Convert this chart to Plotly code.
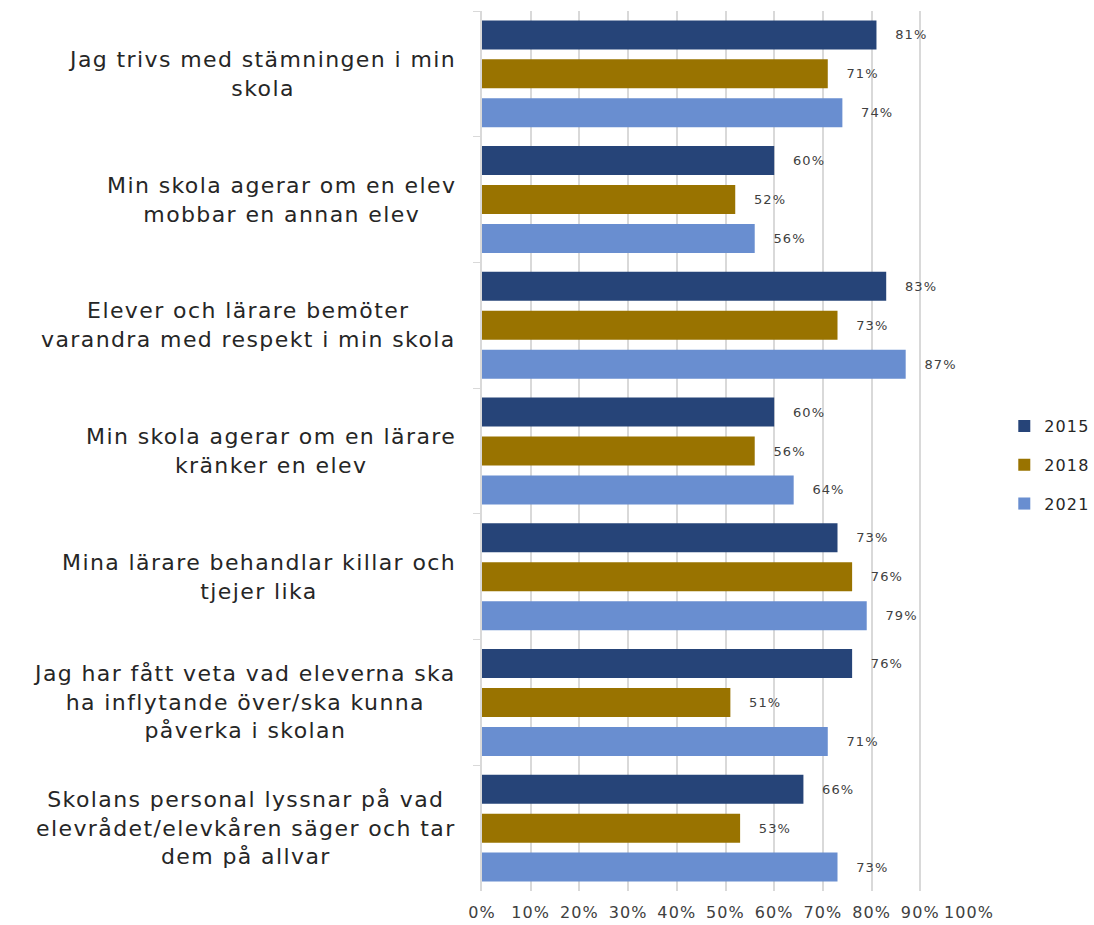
import plotly.graph_objects as go

# Survey statements (top to bottom) and share of positive answers per year, in percent
statements = [
    "Jag trivs med stämningen i min<br>skola",
    "Min skola agerar om en elev<br>mobbar en annan elev",
    "Elever och lärare bemöter<br>varandra med respekt i min skola",
    "Min skola agerar om en lärare<br>kränker en elev",
    "Mina lärare behandlar killar och<br>tjejer lika",
    "Jag har fått veta vad eleverna ska<br>ha inflytande över/ska kunna<br>påverka i skolan",
    "Skolans personal lyssnar på vad<br>elevrådet/elevkåren säger och tar<br>dem på allvar",
]
years = ["2015", "2018", "2021"]
values_2015 = [81, 60, 83, 60, 73, 76, 66]
values_2018 = [71, 52, 73, 56, 76, 51, 53]
values_2021 = [74, 56, 87, 64, 79, 71, 73]
x_ticks = [0, 10, 20, 30, 40, 50, 60, 70, 80, 90, 100]
x_tick_labels = [f"{v}%" for v in x_ticks]

series = [values_2015, values_2018, values_2021]
colors = ["#264478", "#997300", "#698ED0"]

FONT = "DejaVu Sans"
fig = go.Figure()
for year, vals, col in zip(years, series, colors):
    fig.add_trace(go.Bar(
        y=statements,
        x=vals,
        orientation="h",
        name=year,
        legendgroup=year,
        marker=dict(color=col, line=dict(width=0)),
        texttemplate="\u00a0\u00a0\u00a0%{x:.0f}%",
        textposition="outside",
        constraintext="none",
        cliponaxis=False,
        textfont=dict(family=FONT, size=13, color="#404040"),
    ))

# Category labels, centred line by line and right-aligned to the axis
for s in statements:
    fig.add_annotation(
        x=-0.05, xref="paper", xanchor="right",
        y=s, yref="y", yanchor="middle",
        text=s, align="center", showarrow=False,
        font=dict(family=FONT, size=22, color="#262626"),
    )

fig.update_layout(
    width=1094, height=925, autosize=False,
    margin=dict(l=482, r=125, t=11, b=34),
    paper_bgcolor="white", plot_bgcolor="white",
    barmode="group", bargap=0.07, bargroupgap=0.256,
    font=dict(family=FONT, color="#404040"),
    legend=dict(
        xref="container", x=0.918, xanchor="left",
        yref="paper", y=0.484, yanchor="middle",
        font=dict(family=FONT, size=16, color="#262626"),
        tracegroupgap=15,
    ),
    xaxis=dict(
        range=[0, 100], tickvals=x_ticks, ticktext=x_tick_labels,
        showgrid=True, gridcolor="#d9d9d9", gridwidth=1.5,
        zeroline=False, showline=False, ticks="",
        ticklabelstandoff=10, automargin=False,
        tickfont=dict(family=FONT, size=16, color="#404040"),
    ),
    yaxis=dict(
        type="category", categoryorder="array", categoryarray=statements,
        autorange="reversed", automargin=False,
        showticklabels=False, showgrid=False,
        showline=True, linecolor="#d9d9d9", linewidth=1.5,
        ticks="outside", tickson="boundaries", ticklen=7, tickcolor="#d9d9d9",
    ),
)

# Wide, letter-spaced typography: add the spacing rule, then redraw so that
# every text box is measured with it (the family string is varied to skip
# plotly's cached text measurements).
post_js = """
var st = document.createElement('style');
st.textContent = 'svg text { letter-spacing: 1.1px; } svg text.annotation-text { letter-spacing: 1.4px; }';
document.head.appendChild(st);
var gd = document.getElementById('{plot_id}');
var swap = function (o) {
    return JSON.parse(JSON.stringify(o).split('"DejaVu Sans"').join('"DejaVu Sans, sans-serif"'));
};
return Plotly.newPlot(gd, swap(gd.data), swap(gd.layout));
"""

fig.write_html("out.html", post_script=post_js)
